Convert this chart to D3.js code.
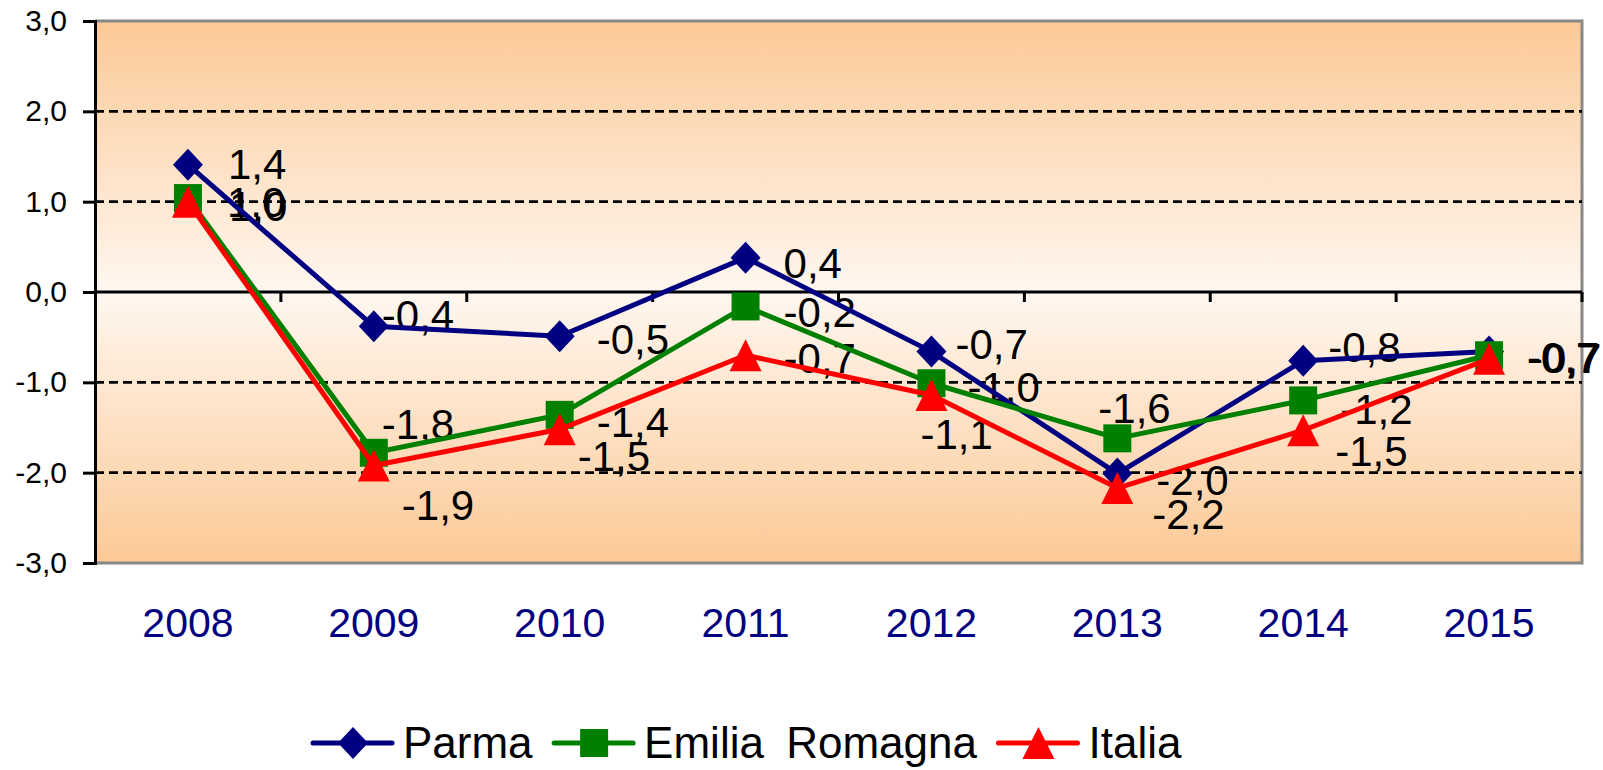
<!DOCTYPE html>
<html>
<head>
<meta charset="utf-8">
<script src="https://cdn.jsdelivr.net/npm/d3@7"></script>
<style>
  html, body { margin: 0; padding: 0; background: #fff; }
  svg { display: block; font-family: "Liberation Sans", Arial, sans-serif; }
</style>
</head>
<body>
<svg width="1603" height="770"></svg>
<script>
// values
var years = ['2008', '2009', '2010', '2011', '2012', '2013', '2014', '2015'];
var parma = [1.41, -0.38, -0.49, 0.38, -0.66, -2.01, -0.76, -0.66];
var emilia = [1.04, -1.78, -1.36, -0.16, -1.01, -1.62, -1.20, -0.70];
var italia = [1.00, -1.92, -1.52, -0.70, -1.14, -2.17, -1.53, -0.74];
var yTicks = [-3, -2, -1, 0, 1, 2, 3];

// where each data label sits relative to its marker (hand placed in the original)
var labelNudge = {
  parma:  [[42, -1], [10, -11], [39, 3], [40, 5], [26, -8], [41, 6], [27, -14], [40, 6]],
  emilia: [[41, 4], [10, -29], [39, 7], [40, 6], [38, 4], [-17, -30], [39, 9], [42, 3]],
  italia: [[43, 4], [30, 40], [20, 27], [40, 3], [-9, 39], [37, 26], [34, 21], [40, -2]]
};

var series = [
  { key: 'parma', name: 'Parma', values: parma, color: '#000080', shape: 'diamond' },
  { key: 'emilia', name: 'Emilia Romagna', values: emilia, color: '#008000', shape: 'square' },
  { key: 'italia', name: 'Italia', values: italia, color: '#ff0000', shape: 'triangle' }
];

var it = d3.formatLocale({ decimal: ',', thousands: '.', grouping: [3], currency: ['', '€'], minus: '-' });
var fmt = it.format('.1f');

var svg = d3.select('svg');
var plotL = 95, plotR = 1582, plotT = 21, plotB = 563;

var x = d3.scaleBand().domain(years).range([plotL, plotR]);
var cx = function(yr) { return x(yr) + x.bandwidth() / 2; };
var y = d3.scaleLinear().domain([-3, 3]).range([plotB, plotT]);

// background gradient, orange at the edges, almost white in the middle
var grad = svg.append('defs').append('linearGradient')
  .attr('id', 'bg').attr('x1', 0).attr('y1', 0).attr('x2', 0).attr('y2', 1);
grad.append('stop').attr('offset', '0%').attr('stop-color', '#fcc996');
grad.append('stop').attr('offset', '50%').attr('stop-color', '#fff7f0');
grad.append('stop').attr('offset', '100%').attr('stop-color', '#fcc996');

svg.append('rect')
  .attr('x', plotL).attr('y', plotT)
  .attr('width', plotR - plotL).attr('height', plotB - plotT)
  .attr('fill', 'url(#bg)');

// plot border (top, right, bottom)
svg.append('path')
  .attr('d', 'M' + plotL + ',' + plotT + 'H' + plotR + 'V' + plotB + 'H' + plotL)
  .attr('fill', 'none').attr('stroke', '#888').attr('stroke-width', 3);

// dashed gridlines
svg.append('g').selectAll('line')
  .data(yTicks.filter(function(d) { return d !== 0 && Math.abs(d) !== 3; }))
  .enter().append('line')
  .attr('x1', plotL).attr('x2', plotR)
  .attr('y1', function(d) { return y(d); }).attr('y2', function(d) { return y(d); })
  .attr('stroke', '#000').attr('stroke-width', 2.6).attr('stroke-dasharray', '9,5');

// y axis
var yAxis = svg.append('g')
  .attr('transform', 'translate(' + plotL + ',0)')
  .call(d3.axisLeft(y).tickValues(yTicks).tickFormat(fmt).tickSize(12).tickPadding(16));
yAxis.select('.domain').attr('stroke', '#000').attr('stroke-width', 3);
yAxis.selectAll('.tick line').attr('stroke', '#000').attr('stroke-width', 3);
yAxis.selectAll('.tick text')
  .attr('font-size', 30).attr('fill', '#000')
  .attr('font-family', '"Liberation Sans", Arial, sans-serif');

// x axis on the zero line, ticks between categories
var zero = y(0);
svg.append('line')
  .attr('x1', plotL).attr('x2', plotR).attr('y1', zero).attr('y2', zero)
  .attr('stroke', '#000').attr('stroke-width', 3);
svg.append('g').selectAll('line')
  .data(years.slice(1).map(function(d) { return x(d); }).concat([plotR]))
  .enter().append('line')
  .attr('x1', function(d) { return d; }).attr('x2', function(d) { return d; })
  .attr('y1', zero).attr('y2', zero + 10)
  .attr('stroke', '#000').attr('stroke-width', 3);

// category labels below the plot
svg.append('g').selectAll('text')
  .data(years)
  .enter().append('text')
  .attr('x', cx).attr('y', 637)
  .attr('text-anchor', 'middle')
  .attr('font-size', 41).attr('fill', '#000080')
  .text(function(d) { return d; });

function markerPath(shape) {
  if (shape === 'diamond') return 'M0,-16L15,0L0,16L-15,0Z';
  if (shape === 'square') return 'M-14,-14H14V14H-14Z';
  return 'M0,-16L16,16H-16Z';
}

// data labels (under the lines, as in the original)
var labels = svg.append('g');
series.forEach(function(s) {
  labels.selectAll('text.l-' + s.key)
    .data(s.values)
    .enter().append('text')
    .attr('class', 'l-' + s.key)
    .attr('x', function(d, i) { return cx(years[i]) + labelNudge[s.key][i][0] - 2; })
    .attr('y', function(d, i) { return y(d) + labelNudge[s.key][i][1] + 15; })
    .attr('font-size', 42).attr('fill', '#000')
    .text(function(d) { return fmt(d); });
});

var line = d3.line()
  .x(function(d, i) { return cx(years[i]); })
  .y(function(d) { return y(d); });

series.forEach(function(s) {
  var g = svg.append('g');
  g.append('path')
    .attr('d', line(s.values))
    .attr('fill', 'none').attr('stroke', s.color)
    .attr('stroke-width', 5).attr('stroke-linejoin', 'round');
  g.selectAll('path.m')
    .data(s.values)
    .enter().append('path')
    .attr('class', 'm')
    .attr('d', markerPath(s.shape))
    .attr('transform', function(d, i) { return 'translate(' + cx(years[i]) + ',' + y(d) + ')'; })
    .attr('fill', s.color);
});

// legend
var legend = svg.append('g').attr('transform', 'translate(313,743)');
var lx = 0;
series.forEach(function(s) {
  var item = legend.append('g').attr('transform', 'translate(' + lx + ',0)');
  item.append('line')
    .attr('x1', 0).attr('x2', 79).attr('y1', 0).attr('y2', 0)
    .attr('stroke', s.color).attr('stroke-width', 5).attr('stroke-linecap', 'round');
  item.append('path')
    .attr('d', markerPath(s.shape))
    .attr('transform', 'translate(40,0)')
    .attr('fill', s.color);
  var t = item.append('text')
    .attr('x', 90).attr('y', 15)
    .attr('font-size', 44).attr('word-spacing', 10).attr('fill', '#000')
    .text(s.name);
  lx += 90 + t.node().getBBox().width + 21;
});
</script>
</body>
</html>
